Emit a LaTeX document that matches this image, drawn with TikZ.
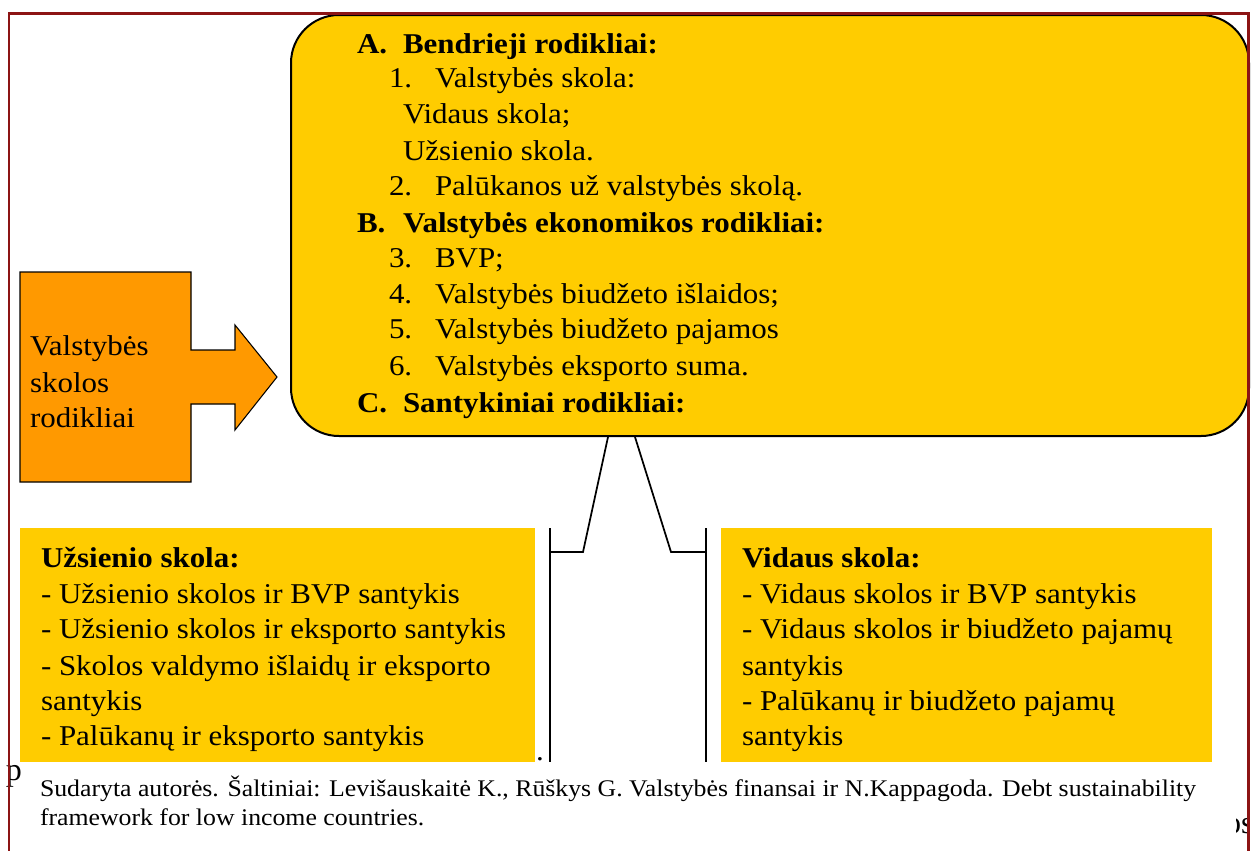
\documentclass[tikz,border=0pt]{standalone}
\usepackage{fontspec}
\setmainfont{Liberation Serif}[FakeStretch=1.08]
\newfontfamily\plainserif{Liberation Serif}
\usetikzlibrary{calc}
\definecolor{frame}{RGB}{140,20,20}
\definecolor{gold}{RGB}{255,204,0}
\definecolor{orangefill}{RGB}{255,153,0}
\newcommand{\mainsize}{\fontsize{21.5}{27}\selectfont}
\newcommand{\notesize}{\fontsize{17.9}{22}\selectfont}
\tikzset{
  txt/.style={anchor=base west, inner sep=0pt, outer sep=0pt, font=\mainsize},
  bold/.style={txt, font=\mainsize\bfseries},
  note/.style={anchor=base west, inner sep=0pt, outer sep=0pt, font=\notesize},
  stray/.style={anchor=base west, inner sep=0pt, outer sep=0pt, font=\plainserif\fontsize{24}{28}\selectfont},
  bigbox/.style={draw=black, line width=1.5pt, fill=gold, rounded corners=36pt,
    minimum width=718.5pt, minimum height=315.75pt, inner sep=0pt},
  goldbox/.style={fill=gold, inner sep=0pt},
  link/.style={draw=black, line width=1.3pt},
}
\begin{document}
\begin{tikzpicture}[x=0.75pt,y=-0.75pt]
\useasboundingbox (0,0) rectangle (1251,850);
\clip (0,0) rectangle (1251,850);
\fill[white] (0,0) rectangle (1251,850);

% main rounded box
\node[bigbox] (main) at (770,225.5) {};

% yellow boxes
\node[goldbox, minimum width=386.25pt, minimum height=175.5pt] (left) at (277.5,645) {};
\node[goldbox, minimum width=368.25pt, minimum height=175.5pt] (right) at (966.5,645) {};

% orange arrow shape
\draw[fill=orangefill, draw=black, line width=0.8pt]
  (20,272) -- (191,272) -- (191,350) -- (235,350) -- (235,325) -- (277,377)
  -- (235,430) -- (235,404) -- (191,404) -- (191,482) -- (20,482) -- cycle;
\node[txt] (o1) at (30,355) {Valstybės};
\node[txt] (o2) at (30,392) {skolos};
\node[txt] (o3) at (30,427) {rodikliai};

% connectors
\coordinate (lt) at (550,528);
\coordinate (lb) at (550,762);
\coordinate (lk) at (550,552);
\coordinate (lm) at (583,552);
\coordinate (rt) at (706,528);
\coordinate (rb) at (706,762);
\coordinate (rk) at (706,552);
\coordinate (rm) at (671,552);
\draw[link] ([xshift=-121.5pt]main.south) -- (lm) -- (lk);
\draw[link] (lt) -- (lb);
\draw[link] ([xshift=-101.25pt]main.south) -- (rm) -- (rk);
\draw[link] (rt) -- (rb);

% main box text
\node[bold] (a1) at (357,53) {A.};
\node[bold] (a2) at (403,53) {Bendrieji rodikliai:};
\node[txt] (n1) at (389,87) {1.};
\node[txt] (t1) at (435,87) {Valstybės skola:};
\node[txt] (t1a) at (403,123) {Vidaus skola;};
\node[txt] (t1b) at (403,160) {Užsienio skola.};
\node[txt] (n2) at (389,195) {2.};
\node[txt] (t2) at (435,195) {Palūkanos už valstybės skolą.};
\node[bold] (b1) at (357,232) {B.};
\node[bold] (b2) at (403,232) {Valstybės ekonomikos rodikliai:};
\node[txt] (n3) at (389,267) {3.};
\node[txt] (t3) at (435,267) {BVP;};
\node[txt] (n4) at (389,303) {4.};
\node[txt] (t4) at (435,303) {Valstybės biudžeto išlaidos;};
\node[txt] (n5) at (389,338) {5.};
\node[txt] (t5) at (435,338) {Valstybės biudžeto pajamos};
\node[txt] (n6) at (389,375) {6.};
\node[txt] (t6) at (435,375) {Valstybės eksporto suma.};
\node[bold] (c1) at (357,412) {C.};
\node[bold] (c2) at (403,412) {Santykiniai rodikliai:};

% left box text
\node[bold] (l0) at (41,567) {Užsienio skola:};
\node[txt] (l1) at (41,603) {- Užsienio skolos ir BVP santykis};
\node[txt] (l2) at (41,638) {- Užsienio skolos ir eksporto santykis};
\node[txt] (l3) at (41,675) {- Skolos valdymo išlaidų ir eksporto};
\node[txt] (l4) at (41,710) {santykis};
\node[txt] (l5) at (41,745) {- Palūkanų ir eksporto santykis};

% right box text
\node[bold] (r0) at (742,567) {Vidaus skola:};
\node[txt] (r1) at (742,603) {- Vidaus skolos ir BVP santykis};
\node[txt] (r2) at (742,638) {- Vidaus skolos ir biudžeto pajamų};
\node[txt] (r3) at (742,675) {santykis};
\node[txt] (r4) at (742,710) {- Palūkanų ir biudžeto pajamų};
\node[txt] (r5) at (742,745) {santykis};

% stray characters
\node[txt] (dot) at (536,760) {.};
\node[stray] (pp) at (6,780) {p};
\begin{scope}
\clip (1236,800) rectangle (1248,850);
\node[stray] (os) at (1225,833) {os};
\end{scope}

% footnote
\node[note] (f1) at (40,796) {Sudaryta autorės. Šaltiniai: Levišauskaitė K., Rūškys G. Valstybės finansai ir N.Kappagoda. Debt sustainability};
\node[note] (f2) at (40,825) {framework for low income countries.};

% frame
\draw[frame, line width=2pt] (9,851) -- (9,13.5) -- (1248.5,13.5) -- (1248.5,851);
\end{tikzpicture}
\end{document}
